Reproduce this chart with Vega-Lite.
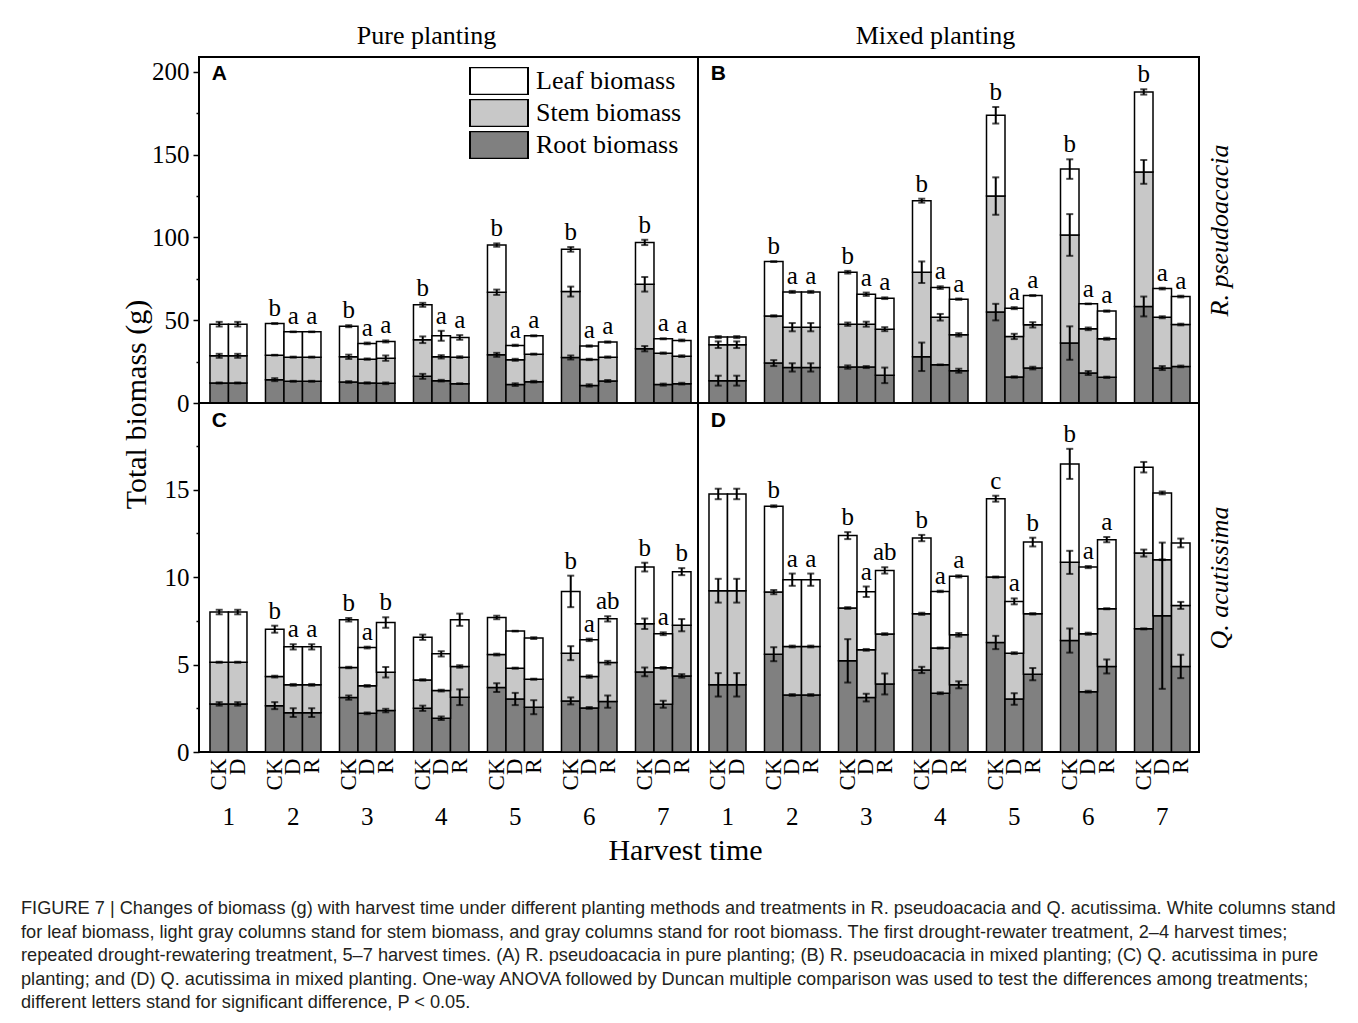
{
  "$schema": "https://vega.github.io/schema/vega-lite/v6.json",
  "padding": {"left": 21, "top": 22, "right": 5, "bottom": 5},
  "background": "white",
  "config": {
    "view": {"stroke": "black", "strokeWidth": 2},
    "text": {"color": "black"}
  },
  "title": {
    "text": [
      "FIGURE 7 | Changes of biomass (g) with harvest time under different planting methods and treatments in R. pseudoacacia and Q. acutissima. White columns stand",
      "for leaf biomass, light gray columns stand for stem biomass, and gray columns stand for root biomass. The first drought-rewater treatment, 2–4 harvest times;",
      "repeated drought-rewatering treatment, 5–7 harvest times. (A) R. pseudoacacia in pure planting; (B) R. pseudoacacia in mixed planting; (C) Q. acutissima in pure",
      "planting; and (D) Q. acutissima in mixed planting. One-way ANOVA followed by Duncan multiple comparison was used to test the differences among treatments;",
      "different letters stand for significant difference, P < 0.05."
    ],
    "orient": "bottom",
    "anchor": "start",
    "frame": "group",
    "dx": -178,
    "offset": 34,
    "font": "Liberation Sans",
    "fontSize": 18.2,
    "fontWeight": "normal",
    "color": "#231f20",
    "lineHeight": 23.5,
    "baseline": "top"
  },
  "columns": 2,
  "spacing": 0,
  "bounds": "flush",
  "align": "each",
  "resolve": {"scale": {"color": "independent"}, "legend": {"color": "independent"}},
  "concat": [
    {
      "width": 499,
      "height": 346,
      "title": {"text": "Pure planting", "frame": "group", "anchor": "middle", "dx": -22, "offset": 8, "font": "Liberation Serif", "fontSize": 26, "fontWeight": "normal", "color": "black"},
      "data": {"name": "A"},
      "transform": [
        {"calculate": "datum.time + ' ' + datum.trt", "as": "slot"},
        {"calculate": "datum.t + datum.et", "as": "top"}
      ],
      "encoding": {
        "x": {"field": "slot", "type": "nominal", "axis": null,
          "scale": {"type": "band", "domain": ["1 CK","1 D","g1","2 CK","2 D","2 R","g2","3 CK","3 D","3 R","g3","4 CK","4 D","4 R","g4","5 CK","5 D","5 R","g5","6 CK","6 D","6 R","g6","7 CK","7 D","7 R"], "paddingInner": 0, "paddingOuter": 0.486, "align": 0.61}}
      },
      "layer": [
        {
          "mark": {"type": "bar", "stroke": "black", "strokeWidth": 1.5},
          "encoding": {
            "y": {"field": "r", "type": "quantitative", "title": "Total biomass (g)", "scale": {"domain": [0, 209], "nice": false},
              "axis": {"values": [0,25,50,75,100,125,150,175,200], "labelExpr": "datum.value % 50 == 0 ? datum.label : ''",
                "tickSize": {"condition": {"test": "datum.value % 50 != 0", "value": 3}, "value": 6},
                "tickColor": "black", "tickWidth": 1.5, "domain": false, "grid": false, "labelOverlap": false,
                "labelFont": "Liberation Serif", "labelFontSize": 25, "labelColor": "black", "labelPadding": 4,
                "titleFont": "Liberation Serif", "titleFontSize": 30, "titleFontWeight": "normal", "titleColor": "black", "titleY": 347, "titlePadding": 0}},
            "color": {"datum": "Root biomass",
              "scale": {"domain": ["Leaf biomass", "Stem biomass", "Root biomass"], "range": ["#ffffff", "#c8c8c8", "#808080"]},
              "legend": {"orient": "none", "legendX": 270, "legendY": 10, "title": null, "symbolType": "M-1,-0.47H1V0.47H-1Z", "symbolSize": 3364, "clipHeight": 28, "rowPadding": 4, "symbolStrokeColor": "black", "symbolStrokeWidth": 2, "symbolOpacity": 1, "labelFont": "Liberation Serif", "labelFontSize": 26, "labelColor": "black", "labelOffset": 7, "padding": 0}}
          }
        },
        {
          "mark": {"type": "bar", "stroke": "black", "strokeWidth": 1.5},
          "encoding": {"y": {"field": "s", "type": "quantitative", "title": "Total biomass (g)"}, "y2": {"field": "r"}, "color": {"datum": "Stem biomass"}}
        },
        {
          "mark": {"type": "bar", "stroke": "black", "strokeWidth": 1.5},
          "encoding": {"y": {"field": "t", "type": "quantitative", "title": "Total biomass (g)"}, "y2": {"field": "s"}, "color": {"datum": "Leaf biomass"}}
        },
        {
          "mark": {"type": "errorbar", "color": "black", "ticks": {"size": 7, "thickness": 2, "color": "black"}, "rule": {"strokeWidth": 2, "color": "black"}},
          "encoding": {"y": {"field": "r", "type": "quantitative", "title": "Total biomass (g)"}, "yError": {"field": "er"}}
        },
        {
          "mark": {"type": "errorbar", "color": "black", "ticks": {"size": 7, "thickness": 2, "color": "black"}, "rule": {"strokeWidth": 2, "color": "black"}},
          "encoding": {"y": {"field": "s", "type": "quantitative", "title": "Total biomass (g)"}, "yError": {"field": "es"}}
        },
        {
          "mark": {"type": "errorbar", "color": "black", "ticks": {"size": 7, "thickness": 2, "color": "black"}, "rule": {"strokeWidth": 2, "color": "black"}},
          "encoding": {"y": {"field": "t", "type": "quantitative", "title": "Total biomass (g)"}, "yError": {"field": "et"}}
        },
        {
          "mark": {"type": "text", "font": "Liberation Serif", "fontSize": 25, "baseline": "alphabetic", "dy": -7, "color": "black"},
          "encoding": {"y": {"field": "top", "type": "quantitative", "title": "Total biomass (g)"}, "text": {"field": "sig"}}
        },
        {
          "data": {"values": [{"lab": "A"}]},
          "mark": {"type": "text", "font": "Liberation Sans", "fontWeight": "bold", "fontSize": 21, "baseline": "middle", "color": "black"},
          "encoding": {"x": {"datum": "1 CK", "axis": null}, "y": {"datum": 199, "title": "Total biomass (g)"}, "text": {"field": "lab"}}
        }
      ]
    },
    {
      "width": 501,
      "height": 346,
      "title": {"text": "Mixed planting", "frame": "group", "anchor": "middle", "dx": -13, "offset": 8, "font": "Liberation Serif", "fontSize": 26, "fontWeight": "normal", "color": "black"},
      "data": {"name": "B"},
      "transform": [
        {"calculate": "datum.time + ' ' + datum.trt", "as": "slot"},
        {"calculate": "datum.t + datum.et", "as": "top"}
      ],
      "encoding": {
        "x": {"field": "slot", "type": "nominal", "axis": null,
          "scale": {"type": "band", "domain": ["1 CK","1 D","g1","2 CK","2 D","2 R","g2","3 CK","3 D","3 R","g3","4 CK","4 D","4 R","g4","5 CK","5 D","5 R","g5","6 CK","6 D","6 R","g6","7 CK","7 D","7 R"], "paddingInner": 0, "paddingOuter": 0.54, "align": 0.55}}
      },
      "layer": [
        {
          "mark": {"type": "bar", "stroke": "black", "strokeWidth": 1.5, "color": "#808080"},
          "encoding": {
            "y": {"field": "r", "type": "quantitative", "title": "R. pseudoacacia", "scale": {"domain": [0, 209], "nice": false},
              "axis": {"orient": "right", "labels": false, "ticks": false, "domain": false, "grid": false,
                "titleFont": "Liberation Serif", "titleFontSize": 26, "titleFontStyle": "italic", "titleFontWeight": "normal", "titleColor": "black", "titleAngle": 270, "titleBaseline": "top", "titlePadding": 7}}
          }
        },
        {
          "mark": {"type": "bar", "stroke": "black", "strokeWidth": 1.5, "color": "#c8c8c8"},
          "encoding": {"y": {"field": "s", "type": "quantitative", "title": "R. pseudoacacia"}, "y2": {"field": "r"}}
        },
        {
          "mark": {"type": "bar", "stroke": "black", "strokeWidth": 1.5, "color": "#ffffff"},
          "encoding": {"y": {"field": "t", "type": "quantitative", "title": "R. pseudoacacia"}, "y2": {"field": "s"}}
        },
        {
          "mark": {"type": "errorbar", "color": "black", "ticks": {"size": 7, "thickness": 2, "color": "black"}, "rule": {"strokeWidth": 2, "color": "black"}},
          "encoding": {"y": {"field": "r", "type": "quantitative", "title": "R. pseudoacacia"}, "yError": {"field": "er"}}
        },
        {
          "mark": {"type": "errorbar", "color": "black", "ticks": {"size": 7, "thickness": 2, "color": "black"}, "rule": {"strokeWidth": 2, "color": "black"}},
          "encoding": {"y": {"field": "s", "type": "quantitative", "title": "R. pseudoacacia"}, "yError": {"field": "es"}}
        },
        {
          "mark": {"type": "errorbar", "color": "black", "ticks": {"size": 7, "thickness": 2, "color": "black"}, "rule": {"strokeWidth": 2, "color": "black"}},
          "encoding": {"y": {"field": "t", "type": "quantitative", "title": "R. pseudoacacia"}, "yError": {"field": "et"}}
        },
        {
          "mark": {"type": "text", "font": "Liberation Serif", "fontSize": 25, "baseline": "alphabetic", "dy": -7, "color": "black"},
          "encoding": {"y": {"field": "top", "type": "quantitative", "title": "R. pseudoacacia"}, "text": {"field": "sig"}}
        },
        {
          "data": {"values": [{"lab": "B"}]},
          "mark": {"type": "text", "font": "Liberation Sans", "fontWeight": "bold", "fontSize": 21, "baseline": "middle", "color": "black"},
          "encoding": {"x": {"datum": "1 CK", "axis": null}, "y": {"datum": 199, "title": "R. pseudoacacia"}, "text": {"field": "lab"}}
        }
      ]
    },
    {
      "width": 499,
      "height": 349,
      "data": {"name": "C"},
      "transform": [
        {"calculate": "datum.time + ' ' + datum.trt", "as": "slot"},
        {"calculate": "datum.t + datum.et", "as": "top"}
      ],
      "resolve": {"axis": {"x": "independent"}},
      "encoding": {
        "x": {"field": "slot", "type": "nominal", "axis": null,
          "scale": {"type": "band", "domain": ["1 CK","1 D","g1","2 CK","2 D","2 R","g2","3 CK","3 D","3 R","g3","4 CK","4 D","4 R","g4","5 CK","5 D","5 R","g5","6 CK","6 D","6 R","g6","7 CK","7 D","7 R"], "paddingInner": 0, "paddingOuter": 0.486, "align": 0.61}}
      },
      "layer": [
        {
          "mark": {"type": "bar", "stroke": "black", "strokeWidth": 1.5, "color": "#808080"},
          "encoding": {
            "x": {"field": "slot", "type": "nominal",
              "axis": {"orient": "bottom", "labelAngle": 270, "labelAlign": "right", "labelBaseline": "middle", "labelExpr": "indexof(datum.value, 'g') == 0 ? '' : split(datum.value, ' ')[1]", "ticks": false, "domain": false, "grid": false, "labelOverlap": false, "labelPadding": 6, "labelFont": "Liberation Serif", "labelFontSize": 23, "labelColor": "black", "title": null}},
            "y": {"field": "r", "type": "quantitative", "scale": {"domain": [0, 19.95], "nice": false},
              "axis": {"values": [0,2.5,5,7.5,10,12.5,15,17.5], "labelExpr": "datum.value % 5 == 0 ? datum.label : ''",
                "tickSize": {"condition": {"test": "datum.value % 5 != 0", "value": 3}, "value": 6},
                "tickColor": "black", "tickWidth": 1.5, "domain": false, "grid": false, "labelOverlap": false,
                "labelFont": "Liberation Serif", "labelFontSize": 25, "labelColor": "black", "labelPadding": 4, "title": null}}
          }
        },
        {
          "mark": {"type": "bar", "stroke": "black", "strokeWidth": 1.5, "color": "#c8c8c8"},
          "encoding": {
            "x": {"field": "slot", "type": "nominal",
              "axis": {"orient": "bottom", "labelAngle": 0, "labelAlign": "center", "labelBaseline": "top", "labelExpr": "split(datum.value, ' ')[1] == 'D' ? split(datum.value, ' ')[0] : ''", "labelOffset": {"condition": {"test": "datum.value == '1 D'", "value": -9}, "value": 0}, "ticks": false, "domain": false, "grid": false, "labelOverlap": false, "labelPadding": 52, "labelFont": "Liberation Serif", "labelFontSize": 25, "labelColor": "black",
                "title": "Harvest time", "titleFont": "Liberation Serif", "titleFontSize": 30, "titleFontWeight": "normal", "titleColor": "black", "titleX": 486, "titlePadding": 6}},
            "y": {"field": "s", "type": "quantitative"}, "y2": {"field": "r"}}
        },
        {
          "mark": {"type": "bar", "stroke": "black", "strokeWidth": 1.5, "color": "#ffffff"},
          "encoding": {"y": {"field": "t", "type": "quantitative"}, "y2": {"field": "s"}}
        },
        {
          "mark": {"type": "errorbar", "color": "black", "ticks": {"size": 7, "thickness": 2, "color": "black"}, "rule": {"strokeWidth": 2, "color": "black"}},
          "encoding": {"y": {"field": "r", "type": "quantitative"}, "yError": {"field": "er"}}
        },
        {
          "mark": {"type": "errorbar", "color": "black", "ticks": {"size": 7, "thickness": 2, "color": "black"}, "rule": {"strokeWidth": 2, "color": "black"}},
          "encoding": {"y": {"field": "s", "type": "quantitative"}, "yError": {"field": "es"}}
        },
        {
          "mark": {"type": "errorbar", "color": "black", "ticks": {"size": 7, "thickness": 2, "color": "black"}, "rule": {"strokeWidth": 2, "color": "black"}},
          "encoding": {"y": {"field": "t", "type": "quantitative"}, "yError": {"field": "et"}}
        },
        {
          "mark": {"type": "text", "font": "Liberation Serif", "fontSize": 25, "baseline": "alphabetic", "dy": -7, "color": "black"},
          "encoding": {"y": {"field": "top", "type": "quantitative"}, "text": {"field": "sig"}}
        },
        {
          "data": {"values": [{"lab": "C"}]},
          "mark": {"type": "text", "font": "Liberation Sans", "fontWeight": "bold", "fontSize": 21, "baseline": "middle", "color": "black"},
          "encoding": {"x": {"datum": "1 CK", "axis": null}, "y": {"datum": 18.9}, "text": {"field": "lab"}}
        }
      ]
    },
    {
      "width": 501,
      "height": 349,
      "data": {"name": "D"},
      "transform": [
        {"calculate": "datum.time + ' ' + datum.trt", "as": "slot"},
        {"calculate": "datum.t + datum.et", "as": "top"}
      ],
      "resolve": {"axis": {"x": "independent"}},
      "encoding": {
        "x": {"field": "slot", "type": "nominal", "axis": null,
          "scale": {"type": "band", "domain": ["1 CK","1 D","g1","2 CK","2 D","2 R","g2","3 CK","3 D","3 R","g3","4 CK","4 D","4 R","g4","5 CK","5 D","5 R","g5","6 CK","6 D","6 R","g6","7 CK","7 D","7 R"], "paddingInner": 0, "paddingOuter": 0.54, "align": 0.55}}
      },
      "layer": [
        {
          "mark": {"type": "bar", "stroke": "black", "strokeWidth": 1.5, "color": "#808080"},
          "encoding": {
            "x": {"field": "slot", "type": "nominal",
              "axis": {"orient": "bottom", "labelAngle": 270, "labelAlign": "right", "labelBaseline": "middle", "labelExpr": "indexof(datum.value, 'g') == 0 ? '' : split(datum.value, ' ')[1]", "ticks": false, "domain": false, "grid": false, "labelOverlap": false, "labelPadding": 6, "labelFont": "Liberation Serif", "labelFontSize": 23, "labelColor": "black", "title": null}},
            "y": {"field": "r", "type": "quantitative", "title": "Q. acutissima", "scale": {"domain": [0, 19.95], "nice": false},
              "axis": {"orient": "right", "labels": false, "ticks": false, "domain": false, "grid": false,
                "titleFont": "Liberation Serif", "titleFontSize": 26, "titleFontStyle": "italic", "titleFontWeight": "normal", "titleColor": "black", "titleAngle": 270, "titleBaseline": "top", "titlePadding": 7}}
          }
        },
        {
          "mark": {"type": "bar", "stroke": "black", "strokeWidth": 1.5, "color": "#c8c8c8"},
          "encoding": {
            "x": {"field": "slot", "type": "nominal",
              "axis": {"orient": "bottom", "labelAngle": 0, "labelAlign": "center", "labelBaseline": "top", "labelExpr": "split(datum.value, ' ')[1] == 'D' ? split(datum.value, ' ')[0] : ''", "labelOffset": {"condition": {"test": "datum.value == '1 D'", "value": -9}, "value": 0}, "ticks": false, "domain": false, "grid": false, "labelOverlap": false, "labelPadding": 52, "labelFont": "Liberation Serif", "labelFontSize": 25, "labelColor": "black", "title": null}},
            "y": {"field": "s", "type": "quantitative", "title": "Q. acutissima"}, "y2": {"field": "r"}}
        },
        {
          "mark": {"type": "bar", "stroke": "black", "strokeWidth": 1.5, "color": "#ffffff"},
          "encoding": {"y": {"field": "t", "type": "quantitative", "title": "Q. acutissima"}, "y2": {"field": "s"}}
        },
        {
          "mark": {"type": "errorbar", "color": "black", "ticks": {"size": 7, "thickness": 2, "color": "black"}, "rule": {"strokeWidth": 2, "color": "black"}},
          "encoding": {"y": {"field": "r", "type": "quantitative", "title": "Q. acutissima"}, "yError": {"field": "er"}}
        },
        {
          "mark": {"type": "errorbar", "color": "black", "ticks": {"size": 7, "thickness": 2, "color": "black"}, "rule": {"strokeWidth": 2, "color": "black"}},
          "encoding": {"y": {"field": "s", "type": "quantitative", "title": "Q. acutissima"}, "yError": {"field": "es"}}
        },
        {
          "mark": {"type": "errorbar", "color": "black", "ticks": {"size": 7, "thickness": 2, "color": "black"}, "rule": {"strokeWidth": 2, "color": "black"}},
          "encoding": {"y": {"field": "t", "type": "quantitative", "title": "Q. acutissima"}, "yError": {"field": "et"}}
        },
        {
          "mark": {"type": "text", "font": "Liberation Serif", "fontSize": 25, "baseline": "alphabetic", "dy": -7, "color": "black"},
          "encoding": {"y": {"field": "top", "type": "quantitative", "title": "Q. acutissima"}, "text": {"field": "sig"}}
        },
        {
          "data": {"values": [{"lab": "D"}]},
          "mark": {"type": "text", "font": "Liberation Sans", "fontWeight": "bold", "fontSize": 21, "baseline": "middle", "color": "black"},
          "encoding": {"x": {"datum": "1 CK", "axis": null}, "y": {"datum": 18.9, "title": "Q. acutissima"}, "text": {"field": "lab"}}
        }
      ]
    }
  ],
  "datasets": {
    "A": [
      {"time":1,"trt":"CK","r":12.1,"s":28.5,"t":47.6,"er":0.3,"es":1.2,"et":1.4,"sig":""},
      {"time":1,"trt":"D","r":12.1,"s":28.5,"t":47.6,"er":0.3,"es":1.2,"et":1.4,"sig":""},
      {"time":2,"trt":"CK","r":14.1,"s":28.9,"t":48.0,"er":0.9,"es":0.2,"et":0.3,"sig":"b"},
      {"time":2,"trt":"D","r":13.1,"s":27.7,"t":43.0,"er":0.3,"es":0.3,"et":0.2,"sig":"a"},
      {"time":2,"trt":"R","r":13.1,"s":27.7,"t":43.0,"er":0.3,"es":0.3,"et":0.2,"sig":"a"},
      {"time":3,"trt":"CK","r":12.7,"s":27.9,"t":46.4,"er":0.5,"es":1.3,"et":0.6,"sig":"b"},
      {"time":3,"trt":"D","r":12.1,"s":26.5,"t":36.0,"er":0.4,"es":0.4,"et":0.5,"sig":"a"},
      {"time":3,"trt":"R","r":11.9,"s":27.1,"t":37.2,"er":0.5,"es":1.6,"et":0.6,"sig":"a"},
      {"time":4,"trt":"CK","r":16.1,"s":38.2,"t":59.3,"er":1.5,"es":2.0,"et":1.2,"sig":"b"},
      {"time":4,"trt":"D","r":13.5,"s":27.9,"t":40.6,"er":0.5,"es":1.0,"et":3.0,"sig":"a"},
      {"time":4,"trt":"R","r":11.7,"s":27.7,"t":39.6,"er":0.2,"es":0.5,"et":1.4,"sig":"a"},
      {"time":5,"trt":"CK","r":29.1,"s":66.9,"t":95.4,"er":1.2,"es":1.6,"et":1.0,"sig":"b"},
      {"time":5,"trt":"D","r":11.1,"s":26.1,"t":34.8,"er":0.8,"es":0.6,"et":0.4,"sig":"a"},
      {"time":5,"trt":"R","r":12.9,"s":29.5,"t":40.6,"er":0.5,"es":0.3,"et":0.3,"sig":"a"},
      {"time":6,"trt":"CK","r":27.5,"s":67.3,"t":92.8,"er":1.2,"es":3.0,"et":1.4,"sig":"b"},
      {"time":6,"trt":"D","r":10.6,"s":26.3,"t":34.4,"er":0.7,"es":0.4,"et":0.4,"sig":"a"},
      {"time":6,"trt":"R","r":13.3,"s":27.7,"t":36.8,"er":0.6,"es":0.4,"et":0.4,"sig":"a"},
      {"time":7,"trt":"CK","r":32.8,"s":71.7,"t":97.0,"er":1.6,"es":4.4,"et":1.6,"sig":"b"},
      {"time":7,"trt":"D","r":11.1,"s":30.1,"t":38.8,"er":0.6,"es":0.4,"et":0.3,"sig":"a"},
      {"time":7,"trt":"R","r":11.7,"s":28.3,"t":37.8,"er":0.5,"es":0.5,"et":0.5,"sig":"a"}
    ],
    "B": [
      {"time":1,"trt":"CK","r":13.5,"s":35.2,"t":39.8,"er":3.0,"es":2.0,"et":0.6,"sig":""},
      {"time":1,"trt":"D","r":13.5,"s":35.2,"t":39.8,"er":3.0,"es":2.0,"et":0.6,"sig":""},
      {"time":2,"trt":"CK","r":24.1,"s":52.6,"t":85.4,"er":1.8,"es":0.4,"et":0.2,"sig":"b"},
      {"time":2,"trt":"D","r":21.5,"s":45.8,"t":67.1,"er":2.5,"es":2.5,"et":0.6,"sig":"a"},
      {"time":2,"trt":"R","r":21.5,"s":45.8,"t":67.1,"er":2.5,"es":2.5,"et":0.6,"sig":"a"},
      {"time":3,"trt":"CK","r":21.7,"s":47.6,"t":79.0,"er":1.0,"es":1.0,"et":0.8,"sig":"b"},
      {"time":3,"trt":"D","r":21.7,"s":47.6,"t":65.7,"er":0.6,"es":1.5,"et":1.0,"sig":"a"},
      {"time":3,"trt":"R","r":16.7,"s":44.6,"t":63.3,"er":4.7,"es":1.2,"et":0.5,"sig":"a"},
      {"time":4,"trt":"CK","r":27.9,"s":79.0,"t":122.2,"er":8.6,"es":6.5,"et":1.2,"sig":"b"},
      {"time":4,"trt":"D","r":23.1,"s":51.8,"t":69.7,"er":0.2,"es":2.0,"et":0.8,"sig":"a"},
      {"time":4,"trt":"R","r":19.5,"s":41.2,"t":62.7,"er":1.2,"es":1.0,"et":0.4,"sig":"a"},
      {"time":5,"trt":"CK","r":54.9,"s":125.0,"t":173.8,"er":5.0,"es":11.3,"et":5.0,"sig":"b"},
      {"time":5,"trt":"D","r":15.7,"s":40.2,"t":57.3,"er":0.4,"es":1.6,"et":0.6,"sig":"a"},
      {"time":5,"trt":"R","r":21.1,"s":47.2,"t":64.9,"er":0.8,"es":1.6,"et":0.3,"sig":"a"},
      {"time":6,"trt":"CK","r":36.2,"s":101.5,"t":141.3,"er":10.1,"es":12.6,"et":5.9,"sig":"b"},
      {"time":6,"trt":"D","r":18.1,"s":44.8,"t":59.9,"er":1.2,"es":0.8,"et":0.2,"sig":"a"},
      {"time":6,"trt":"R","r":15.5,"s":38.8,"t":55.5,"er":0.4,"es":0.6,"et":0.4,"sig":"a"},
      {"time":7,"trt":"CK","r":58.3,"s":139.6,"t":187.9,"er":6.0,"es":7.2,"et":1.6,"sig":"b"},
      {"time":7,"trt":"D","r":21.1,"s":51.8,"t":69.1,"er":1.2,"es":0.6,"et":0.5,"sig":"a"},
      {"time":7,"trt":"R","r":22.1,"s":47.4,"t":64.3,"er":0.5,"es":0.5,"et":0.5,"sig":"a"}
    ],
    "C": [
      {"time":1,"trt":"CK","r":2.75,"s":5.13,"t":8.0,"er":0.1,"es":0.03,"et":0.13,"sig":""},
      {"time":1,"trt":"D","r":2.75,"s":5.13,"t":8.0,"er":0.1,"es":0.03,"et":0.13,"sig":""},
      {"time":2,"trt":"CK","r":2.65,"s":4.31,"t":7.02,"er":0.2,"es":0.05,"et":0.2,"sig":"b"},
      {"time":2,"trt":"D","r":2.25,"s":3.84,"t":6.01,"er":0.25,"es":0.05,"et":0.15,"sig":"a"},
      {"time":2,"trt":"R","r":2.25,"s":3.84,"t":6.01,"er":0.25,"es":0.05,"et":0.15,"sig":"a"},
      {"time":3,"trt":"CK","r":3.11,"s":4.83,"t":7.56,"er":0.12,"es":0.04,"et":0.1,"sig":"b"},
      {"time":3,"trt":"D","r":2.21,"s":3.78,"t":5.97,"er":0.05,"es":0.05,"et":0.05,"sig":"a"},
      {"time":3,"trt":"R","r":2.37,"s":4.56,"t":7.40,"er":0.1,"es":0.3,"et":0.3,"sig":"b"},
      {"time":4,"trt":"CK","r":2.50,"s":4.12,"t":6.56,"er":0.15,"es":0.04,"et":0.15,"sig":""},
      {"time":4,"trt":"D","r":1.93,"s":3.51,"t":5.61,"er":0.1,"es":0.05,"et":0.15,"sig":""},
      {"time":4,"trt":"R","r":3.13,"s":4.89,"t":7.56,"er":0.45,"es":0.07,"et":0.35,"sig":""},
      {"time":5,"trt":"CK","r":3.68,"s":5.57,"t":7.69,"er":0.25,"es":0.05,"et":0.1,"sig":""},
      {"time":5,"trt":"D","r":3.03,"s":4.79,"t":6.91,"er":0.35,"es":0.03,"et":0.02,"sig":""},
      {"time":5,"trt":"R","r":2.56,"s":4.16,"t":6.51,"er":0.4,"es":0.03,"et":0.05,"sig":""},
      {"time":6,"trt":"CK","r":2.92,"s":5.65,"t":9.18,"er":0.2,"es":0.4,"et":0.9,"sig":"b"},
      {"time":6,"trt":"D","r":2.52,"s":4.31,"t":6.41,"er":0.05,"es":0.07,"et":0.07,"sig":"a"},
      {"time":6,"trt":"R","r":2.88,"s":5.11,"t":7.61,"er":0.35,"es":0.1,"et":0.15,"sig":"ab"},
      {"time":7,"trt":"CK","r":4.58,"s":7.33,"t":10.57,"er":0.25,"es":0.3,"et":0.25,"sig":"b"},
      {"time":7,"trt":"D","r":2.73,"s":4.81,"t":6.76,"er":0.2,"es":0.05,"et":0.08,"sig":"a"},
      {"time":7,"trt":"R","r":4.35,"s":7.25,"t":10.31,"er":0.1,"es":0.35,"et":0.2,"sig":"b"}
    ],
    "D": [
      {"time":1,"trt":"CK","r":3.84,"s":9.22,"t":14.75,"er":0.67,"es":0.68,"et":0.3,"sig":""},
      {"time":1,"trt":"D","r":3.84,"s":9.22,"t":14.75,"er":0.67,"es":0.68,"et":0.3,"sig":""},
      {"time":2,"trt":"CK","r":5.59,"s":9.14,"t":14.05,"er":0.4,"es":0.12,"et":0.05,"sig":"b"},
      {"time":2,"trt":"D","r":3.26,"s":6.03,"t":9.85,"er":0.05,"es":0.05,"et":0.35,"sig":"a"},
      {"time":2,"trt":"R","r":3.26,"s":6.03,"t":9.85,"er":0.05,"es":0.05,"et":0.35,"sig":"a"},
      {"time":3,"trt":"CK","r":5.21,"s":8.23,"t":12.37,"er":1.24,"es":0.05,"et":0.2,"sig":"b"},
      {"time":3,"trt":"D","r":3.11,"s":5.84,"t":9.16,"er":0.22,"es":0.05,"et":0.3,"sig":"a"},
      {"time":3,"trt":"R","r":3.89,"s":6.74,"t":10.38,"er":0.6,"es":0.05,"et":0.18,"sig":"ab"},
      {"time":4,"trt":"CK","r":4.69,"s":7.90,"t":12.23,"er":0.18,"es":0.06,"et":0.18,"sig":"b"},
      {"time":4,"trt":"D","r":3.36,"s":5.94,"t":9.18,"er":0.05,"es":0.03,"et":0.04,"sig":"a"},
      {"time":4,"trt":"R","r":3.84,"s":6.70,"t":10.04,"er":0.2,"es":0.1,"et":0.06,"sig":"a"},
      {"time":5,"trt":"CK","r":6.26,"s":10.0,"t":14.48,"er":0.38,"es":0.03,"et":0.17,"sig":"c"},
      {"time":5,"trt":"D","r":3.03,"s":5.65,"t":8.61,"er":0.33,"es":0.05,"et":0.17,"sig":"a"},
      {"time":5,"trt":"R","r":4.45,"s":7.90,"t":12.0,"er":0.35,"es":0.04,"et":0.25,"sig":"b"},
      {"time":6,"trt":"CK","r":6.37,"s":10.84,"t":16.47,"er":0.69,"es":0.66,"et":0.86,"sig":"b"},
      {"time":6,"trt":"D","r":3.45,"s":6.76,"t":10.57,"er":0.05,"es":0.06,"et":0.06,"sig":"a"},
      {"time":6,"trt":"R","r":4.89,"s":8.19,"t":12.14,"er":0.4,"es":0.03,"et":0.15,"sig":"a"},
      {"time":7,"trt":"CK","r":7.04,"s":11.37,"t":16.28,"er":0.03,"es":0.2,"et":0.3,"sig":""},
      {"time":7,"trt":"D","r":7.79,"s":10.99,"t":14.81,"er":4.18,"es":0.02,"et":0.08,"sig":""},
      {"time":7,"trt":"R","r":4.89,"s":8.38,"t":11.95,"er":0.67,"es":0.2,"et":0.25,"sig":""}
    ]
  }
}
